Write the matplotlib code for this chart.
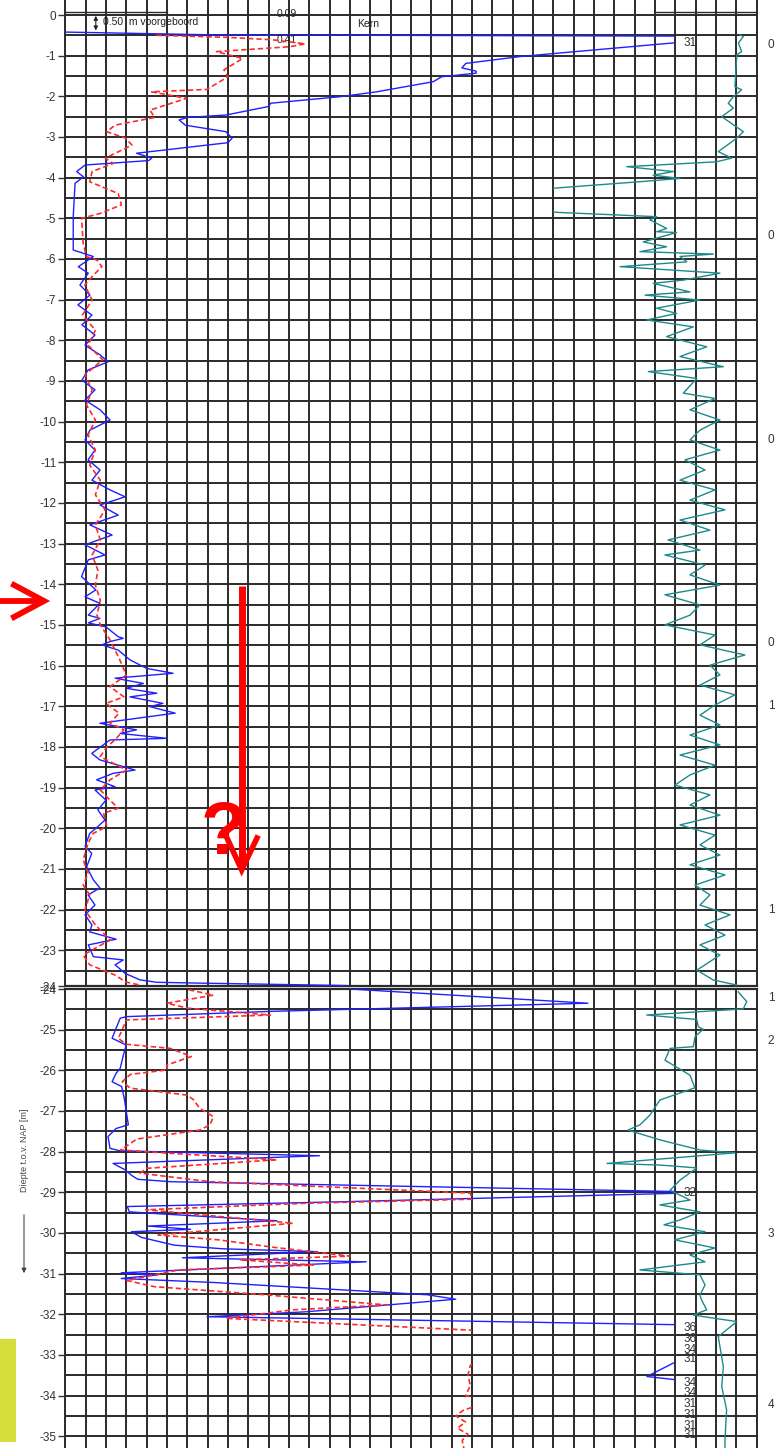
import numpy as np
import matplotlib
matplotlib.use('Agg')
import matplotlib.pyplot as plt
from matplotlib.patches import Rectangle
from matplotlib.lines import Line2D

plt.rcParams['font.family'] = ['Liberation Sans', 'DejaVu Sans']

# ---------------- data: upper panel (0 .. -24 m NAP) ----------------
top_qc_depth = [-0.42, -0.49, -0.52, -0.60, -0.66, -0.91, -1.02, -1.19, -1.30, -1.38, -1.43, -1.52,
                -1.64, -1.89, -2.01, -2.17, -2.25, -2.46, -2.52, -2.58, -2.71, -2.87, -3.03, -3.14,
                -3.36, -3.40, -3.52, -3.58, -3.69, -3.85, -3.98, -4.14, -4.96, -5.78, -5.86, -5.94,
                -6.19, -6.35, -6.64, -6.89, -7.13, -7.38, -7.62, -7.87, -8.12, -8.36, -8.53, -8.73,
                -8.98, -9.22, -9.47, -9.71, -9.96, -10.21, -10.45, -10.70, -10.94, -11.19, -11.44,
                -11.68, -11.85, -12.05, -12.30, -12.54, -12.79, -13.03, -13.28, -13.40, -13.81,
                -14.14, -14.31, -14.47, -14.76, -14.84, -14.95, -15.05, -15.29, -15.33, -15.41,
                -15.49, -15.62, -15.86, -16.07, -16.19, -16.31, -16.44, -16.56, -16.68, -16.77,
                -16.93, -17.01, -17.17, -17.42, -17.58, -17.67, -17.79, -17.83, -17.95, -18.16,
                -18.32, -18.57, -18.65, -18.81, -18.98, -19.06, -19.31, -19.55, -19.80, -19.96,
                -20.13, -20.45, -20.62, -20.95, -21.27, -21.47, -21.64, -21.89, -22.13, -22.38,
                -22.55, -22.73, -22.87, -23.16, -23.24, -23.36, -23.57, -23.73, -23.79, -23.81,
                -23.87]
top_qc = [0.0, 7.5, 30.5, 31.0, 30.5, 24.9, 22.4, 19.7, 19.5, 20.2, 20.2, 18.5,
          18.1, 15.3, 13.5, 10.1, 10.0, 7.9, 6.0, 5.6, 5.9, 7.9, 8.2, 8.0,
          4.2, 3.5, 4.25, 4.1, 0.97, 0.56, 0.89, 0.48, 0.39, 0.39, 0.89, 1.38,
          0.64, 1.13, 0.72, 1.21, 0.62, 1.31, 0.82, 1.46, 0.97, 1.71, 2.1, 1.12,
          0.82, 1.46, 0.97, 1.71, 2.2, 1.21, 0.97, 1.46, 1.12, 1.71, 1.31,
          2.2, 2.94, 1.71, 2.6, 1.21, 2.3, 0.97, 1.95, 1.13, 0.8,
          1.5, 0.97, 1.7, 1.13, 1.7, 1.13, 2.0, 2.6, 2.85, 2.2,
          1.8, 2.6, 3.18, 4.0, 5.3, 2.45, 3.84, 3.0, 4.5, 3.18,
          4.8, 4.16, 5.4, 1.7, 3.5, 2.7, 5.0, 2.2, 1.87, 1.3,
          1.7, 3.43, 2.36, 1.54, 2.45, 1.46, 2.0, 1.6, 1.95, 1.6,
          1.2, 0.97, 1.3, 1.05, 1.38, 1.7, 1.12, 1.46, 0.97, 1.31,
          1.2, 2.5, 1.13, 1.38, 2.85, 2.45, 2.94, 3.67, 4.5, 6.6,
          13.8]

top_fs_depth = [-0.50, -0.55, -0.61, -0.71, -0.78, -0.90, -1.07, -1.35, -1.52, -1.83, -1.89, -2.05,
                -2.34, -2.52, -2.71, -2.87, -3.03, -3.20, -3.52, -3.65, -3.85, -4.10, -4.39, -4.67,
                -4.88, -5.00, -5.62, -5.94, -6.03, -6.19, -6.39, -6.64, -7.01, -7.38, -7.75, -8.12,
                -8.48, -8.85, -9.22, -9.59, -9.96, -10.33, -10.70, -11.07, -11.44, -11.80, -12.17,
                -12.54, -12.91, -13.28, -13.65, -14.02, -14.39, -14.76, -15.00, -15.37, -15.86,
                -16.23, -16.52, -16.77, -16.93, -17.17, -17.42, -17.58, -17.83, -18.00, -18.24,
                -18.57, -18.81, -19.06, -19.31, -19.51, -19.63, -19.96, -20.13, -20.37, -20.78,
                -21.11, -21.40, -21.64, -22.01, -22.38, -22.75, -22.95, -23.12, -23.36, -23.61,
                -23.78, -23.86]
top_fs = [0.112, 0.200, 0.255, 0.295, 0.276, 0.186, 0.218, 0.195, 0.200, 0.174, 0.106, 0.149,
          0.104, 0.110, 0.061, 0.051, 0.074, 0.082, 0.049, 0.059, 0.033, 0.030, 0.065, 0.069,
          0.043, 0.020, 0.022, 0.026, 0.039, 0.045, 0.035, 0.024, 0.033, 0.021, 0.037, 0.028,
          0.046, 0.024, 0.033, 0.026, 0.037, 0.028, 0.037, 0.030, 0.043, 0.037, 0.049,
          0.037, 0.043, 0.033, 0.040, 0.037, 0.043, 0.039, 0.043, 0.055, 0.067,
          0.075, 0.055, 0.072, 0.050, 0.066, 0.055, 0.072, 0.061, 0.051, 0.043,
          0.075, 0.055, 0.043, 0.055, 0.065, 0.047, 0.051, 0.034, 0.028, 0.022,
          0.028, 0.022, 0.030, 0.024, 0.037, 0.055, 0.037, 0.022, 0.030, 0.061,
          0.074, 0.092]

top_rf_depth = [-0.49, -0.53, -0.69, -0.90, -0.98, -1.76, -1.84, -2.01, -2.17, -2.29, -2.50, -2.87,
                -3.03, -3.36, -3.52, -3.61, -3.73, -3.85, -3.94, -4.02, -4.10, -4.26, -4.55, -4.85,
                -4.96, -5.04, -5.25, -5.33, -5.35, -5.58, -5.70, -5.82, -5.88, -5.94, -6.07, -6.19,
                -6.35, -6.52, -6.60, -6.81, -6.89, -7.01, -7.21, -7.34, -7.50, -7.67, -7.91, -8.16,
                -8.40, -8.65, -8.77, -8.94, -9.30, -9.43, -9.71, -9.96, -10.21, -10.45, -10.70,
                -10.94, -11.19, -11.44, -11.68, -11.93, -12.17, -12.42, -12.67, -12.91, -13.16,
                -13.28, -13.53, -13.77, -14.02, -14.26, -14.51, -14.76, -15.00, -15.25, -15.49,
                -15.74, -15.99, -16.23, -16.48, -16.72, -16.97, -17.22, -17.46, -17.71, -17.95,
                -18.20, -18.45, -18.69, -18.94, -19.18, -19.43, -19.68, -19.92, -20.17, -20.41,
                -20.66, -20.90, -21.15, -21.40, -21.64, -21.89, -22.13, -22.38, -22.63, -22.87,
                -23.12, -23.36, -23.49, -23.73, -23.86]
top_rf = [0.82, 0.66, 0.90, 0.74, 0.98, 1.07, 0.74, 1.15, 1.40, 1.15, 1.72, 0.66,
          0.98, 1.89, 1.23, 1.97, 6.39, 4.10, 5.09, 3.77, 5.74, 10.0, 12.0, 10.0,
          4.92, 5.25, 4.43, 4.92, 3.94, 5.58, 4.43, 5.74, 2.13, 3.77, 3.44, 6.72,
          1.81, 3.61, 5.09, 3.28, 5.49, 2.79, 4.92, 3.94, 5.41, 3.12, 4.43, 2.46,
          3.77, 1.64, 5.33, 2.95, 3.61, 2.05, 3.28, 1.81, 2.79, 3.28, 1.81,
          3.53, 2.54, 3.77, 2.05, 3.28, 1.56, 3.77, 2.30, 4.36, 2.79,
          4.51, 2.54, 3.28, 1.81, 4.51, 2.79, 3.28, 4.51, 2.05, 2.79,
          0.58, 2.30, 1.81, 2.79, 1.07, 2.05, 2.79, 1.81, 3.28, 1.81,
          3.77, 2.05, 3.28, 4.02, 2.30, 3.28, 1.81, 3.77, 2.05, 2.79,
          1.81, 3.28, 1.56, 3.04, 2.30, 2.79, 1.31, 2.54, 1.56, 2.79,
          1.81, 2.54, 2.94, 2.15, 0.97]

# ---------------- data: lower panel (-24 .. -35 m NAP) ----------------
bot_qc_depth = [-24.00, -24.35, -24.55, -24.68, -24.72, -25.21, -25.38, -25.54, -25.95, -26.07,
                -26.28, -26.40, -26.69, -27.34, -27.43, -27.63, -27.92, -27.98, -28.10, -28.29,
                -28.45, -28.58, -28.68, -28.74, -29.00, -29.23, -29.35, -29.48, -29.52, -29.70,
                -29.83, -29.91, -29.97, -30.11, -30.30, -30.39, -30.46, -30.61, -30.71, -30.98,
                -31.03, -31.12, -31.22, -31.52, -31.63, -31.94, -32.06, -32.26, -32.34, -32.60,
                -32.87, -33.10, -33.20, -33.53, -33.62, -33.68, -33.93, -34.20, -34.47, -34.74,
                -34.98, -35.30]
bot_qc = [14.0, 25.7, 10.1, 3.0, 2.7, 2.3, 3.0, 2.9, 2.7, 2.5,
          2.3, 2.77, 2.9, 3.1, 2.5, 2.1, 2.2, 2.7, 12.5, 2.35,
          2.95, 3.25, 3.56, 5.2, 32.0, 13.8, 3.05, 3.15, 4.36, 10.4,
          4.06, 6.16, 3.25, 3.75, 5.36, 7.77, 12.4, 5.76, 14.8, 2.75,
          4.56, 2.75, 7.37, 17.8, 19.2, 11.8, 6.97, 30.5, 36.0, 36.0,
          34.0, 31.0, 29.9, 28.6, 30.2, 34.0, 34.0, 31.0, 31.0, 31.0,
          31.0, 31.0]

bot_fs_depth = [-24.02, -24.15, -24.35, -24.47, -24.64, -24.76, -25.05, -25.21, -25.36, -25.46,
                -25.66, -25.87, -25.99, -26.10, -26.28, -26.44, -26.61, -26.73, -26.93, -27.14,
                -27.34, -27.47, -27.69, -27.96, -28.04, -28.20, -28.41, -28.53, -28.74, -29.02,
                -29.17, -29.27, -29.43, -29.76, -30.05, -30.17, -30.35, -30.57, -30.66, -30.79,
                -30.91, -31.17, -31.32, -31.52, -31.77, -31.89, -32.10, -32.39, -32.70, -33.05,
                -33.25, -33.50, -33.75, -34.00, -34.15, -34.35, -34.50, -34.65, -34.80, -34.95,
                -35.10, -35.30]
bot_fs = [0.152, 0.182, 0.125, 0.150, 0.252, 0.075, 0.069, 0.065, 0.075, 0.129,
          0.155, 0.125, 0.125, 0.080, 0.070, 0.080, 0.150, 0.158, 0.165, 0.182,
          0.178, 0.165, 0.088, 0.068, 0.129, 0.260, 0.100, 0.092, 0.178, 0.498,
          0.500, 0.295, 0.099, 0.280, 0.114, 0.189, 0.255, 0.350, 0.214, 0.305,
          0.139, 0.076, 0.109, 0.245, 0.395, 0.280, 0.197, 0.498, 0.560, 0.560,
          0.498, 0.495, 0.498, 0.492, 0.525, 0.490, 0.480, 0.492, 0.482, 0.495,
          0.488, 0.490]

bot_rf_depth = [-24.07, -24.31, -24.49, -24.64, -24.75, -24.93, -24.99, -25.17, -25.42, -25.46,
                -25.75, -26.12, -26.43, -26.73, -27.10, -27.34, -27.47, -27.71, -27.96, -28.03,
                -28.29, -28.33, -28.40, -28.70, -28.95, -29.19, -29.31, -29.48, -29.68, -29.80,
                -29.97, -30.17, -30.37, -30.54, -30.71, -30.91, -31.03, -31.28, -31.53, -31.65,
                -31.89, -32.02, -32.18, -32.55, -33.29, -33.78, -34.35, -35.09, -35.30]
bot_rf = [0.91, 0.49, 0.66, 5.41, 2.95, 2.87, 2.63, 3.03, 3.12, 4.26,
          4.51, 3.28, 3.04, 4.76, 5.25, 5.74, 6.33, 4.76, 2.79, 1.07,
          7.36, 4.76, 2.94, 3.77, 4.26, 3.28, 4.76, 2.79, 3.77, 4.56,
          2.54, 4.02, 2.05, 3.28, 2.54, 5.74, 2.79, 2.54, 2.79, 2.71,
          2.46, 3.12, 0.98, 1.89, 1.64, 1.72, 1.48, 1.56, 1.56]

# values printed where the cone resistance runs off the 30 MPa scale
clip_depth = [-0.69, -29.02, -32.34, -32.60, -32.87, -33.10, -33.68, -33.93, -34.20, -34.47, -34.74, -34.98]
clip_value = ['31', '32', '36', '36', '34', '31', '34', '34', '31', '31', '31', '31']

# layer numbers in the right margin (depth, label)
layer_depth = [-0.74, -5.43, -10.45, -15.45, -17.0, -22.0, -24.22, -25.28, -30.03, -34.23]
layer_label = ['0', '0', '0', '0', '1', '1', '1', '2', '3', '4']

# ---------------- layout ----------------
W, H = 783, 1448
PXM = 40.66          # pixels per metre
XL, XR = 65.3, 756.7
NCOL = 34
QC_MAX = 30.0
FS_PER_COL = 0.025
FS_MAX_BOT = 0.5
RF_MAX = 10.0
GRID = '#2b2b2b'
BLUE = '#1f1fff'
RED = '#ff2a2a'
TEAL = '#1d8a8a'
TXT = '#333333'

fig = plt.figure(figsize=(W / 100, H / 100), dpi=100)
fig.patch.set_facecolor('white')


def px_axes(x0, y0, x1, y1):
    return fig.add_axes([x0 / W, 1 - y1 / H, (x1 - x0) / W, (y1 - y0) / H])


def setup_panel(ax, ylo, yhi, majors, labels, top_spine, bottom_spine):
    ax.set_xlim(0, NCOL)
    ax.set_ylim(ylo, yhi)
    ax.set_xticks(np.arange(0, NCOL + 1))
    ax.set_yticks(majors)
    ax.set_yticklabels(labels)
    mins = np.arange(np.ceil(ylo * 2) / 2, yhi + 1e-6, 0.5)
    ax.set_yticks(mins, minor=True)
    ax.grid(True, which='both', color=GRID, lw=1.4)
    ax.set_axisbelow(True)
    ax.tick_params(axis='x', length=0, labelbottom=False, labeltop=False)
    ax.tick_params(axis='y', which='major', length=5, width=1.0, color=TXT, pad=1.5,
                   labelsize=8.5, labelcolor=TXT)
    ax.tick_params(axis='y', which='minor', length=0)
    for s in ['left', 'right']:
        ax.spines[s].set_linewidth(1.4)
        ax.spines[s].set_color(GRID)
    ax.spines['top'].set_visible(top_spine)
    ax.spines['bottom'].set_visible(bottom_spine)
    for s in ['top', 'bottom']:
        ax.spines[s].set_linewidth(1.6)
        ax.spines[s].set_color(GRID)


def twin(ax, xlim):
    t = ax.twiny()
    t.set_xlim(*xlim)
    t.set_axis_off()
    return t


def draw_panel(ax, ylo, yhi, qd, qv, fd, fv, rd, rv, fs_clip):
    # cone resistance
    ln, = ax.plot(qv, qd, color=BLUE, lw=1.0, zorder=3)
    ln.set_clip_path(Rectangle((0, ylo), QC_MAX, yhi - ylo, transform=ax.transData))
    # sleeve friction
    axf = twin(ax, (0, NCOL * FS_PER_COL))
    lf, = axf.plot(fv, fd, color=RED, lw=1.2, ls=(0, (3.2, 1.8)), zorder=3)
    if fs_clip is not None:
        lf.set_clip_path(Rectangle((0, ylo), fs_clip, yhi - ylo, transform=axf.transData))
    # friction ratio (plotted from the right edge)
    axr = twin(ax, (NCOL, 0))
    lr, = axr.plot(rv, rd, color=TEAL, lw=1.0, zorder=3)
    lr.set_clip_path(Rectangle((0, ylo), RF_MAX, yhi - ylo, transform=axr.transData))
    return axf, axr


# upper panel
top_ylo = -(986 - 15) / PXM
top_yhi = 15 / PXM
ax1 = px_axes(XL, 0, XR, 986)
majors1 = list(range(0, -24, -1)) + [top_ylo]
labels1 = [str(v) for v in range(0, -24, -1)] + ['-24']
setup_panel(ax1, top_ylo, top_yhi, majors1, labels1, False, True)
draw_panel(ax1, top_ylo, top_yhi, top_qc_depth, top_qc, top_fs_depth, top_fs,
           top_rf_depth, top_rf, None)

# lower panel
bot_yhi = -24.0
bot_ylo = -24.0 - (1448 - 989) / PXM
ax2 = px_axes(XL, 989, XR, 1448)
majors2 = list(range(-24, -36, -1))
labels2 = [str(v) for v in majors2]
setup_panel(ax2, bot_ylo, bot_yhi, majors2, labels2, True, False)
draw_panel(ax2, bot_ylo, bot_yhi, bot_qc_depth, bot_qc, bot_fs_depth, bot_fs,
           bot_rf_depth, bot_rf, FS_MAX_BOT)

# header details of the upper panel
for x0, x1 in [(0, 5), (29, 34)]:
    ax1.plot([x0, x1], [0.08, 0.08], color=GRID, lw=1.0, zorder=4, clip_on=False)
ax1.text(1.85, -0.17, '0.50  m voorgeboord', fontsize=7.5, color='#222', va='center', ha='left', zorder=5)
ax1.annotate('', xy=(1.5, 0.05), xytext=(1.5, -0.45),
             arrowprops=dict(arrowstyle='<|-|>', color='#222', lw=0.8, mutation_scale=6), zorder=5)
ax1.text(10.4, 0.02, '0.09', fontsize=7.5, color='#222', va='center', ha='left', zorder=5)
ax1.text(14.35, -0.22, 'Kern', fontsize=7.5, color='#222', va='center', ha='left', zorder=5)
ax1.text(10.4, -0.61, '0.41', fontsize=7.5, color='#222', va='center', ha='left', zorder=5)

# off-scale values
for d, v in zip(clip_depth, clip_value):
    axp = ax1 if d > -24 else ax2
    axp.text(30.4, d, v, fontsize=8.5, color=TXT, va='center', ha='left', zorder=6)

# layer numbers on the right
for d, lab in zip(layer_depth, layer_label):
    axp = ax1 if d > top_ylo else ax2
    axp.text(NCOL + 0.55, d, lab, fontsize=8.5, color=TXT, va='center', ha='left', clip_on=False)

# y-axis title with arrow
fig.text(25 / W, 1 - 1150 / H, 'Diepte t.o.v. NAP [m]', rotation=90, fontsize=6.5,
         color='#444', ha='center', va='center')
fig.add_artist(matplotlib.patches.FancyArrowPatch((24 / W, 1 - 1212 / H), (24 / W, 1 - 1276 / H),
               transform=fig.transFigure, arrowstyle='-|>', mutation_scale=7, lw=0.8, color='#444'))

# red annotations
RA = '#ff0000'
fig.add_artist(Line2D([0 / W, 40 / W], [1 - 601 / H, 1 - 601 / H], transform=fig.transFigure,
                      color=RA, lw=4.2, solid_capstyle='butt'))
fig.add_artist(Line2D([14 / W, 44 / W, 14 / W], [1 - 585 / H, 1 - 601 / H, 1 - 617 / H],
                      transform=fig.transFigure, color=RA, lw=4.2, solid_joinstyle='miter'))
fig.add_artist(Line2D([241.7 / W, 241.7 / W], [1 - 586 / H, 1 - 866 / H], transform=fig.transFigure,
                      color=RA, lw=5.0, solid_capstyle='butt'))
fig.add_artist(Line2D([227 / W, 241.7 / W, 257 / W], [1 - 838 / H, 1 - 870 / H, 1 - 838 / H],
                      transform=fig.transFigure, color=RA, lw=4.0, solid_joinstyle='miter'))
fig.text(224 / W, 1 - 835 / H, '?', fontsize=54, fontweight='bold', color=RA,
         ha='center', va='center')

# yellow marker bar
fig.add_artist(Rectangle((0, 1 - 1442 / H), 16 / W, 103 / H, transform=fig.transFigure,
                         facecolor='#d5df3b', edgecolor='none'))

fig.savefig('out.png', dpi=100)
